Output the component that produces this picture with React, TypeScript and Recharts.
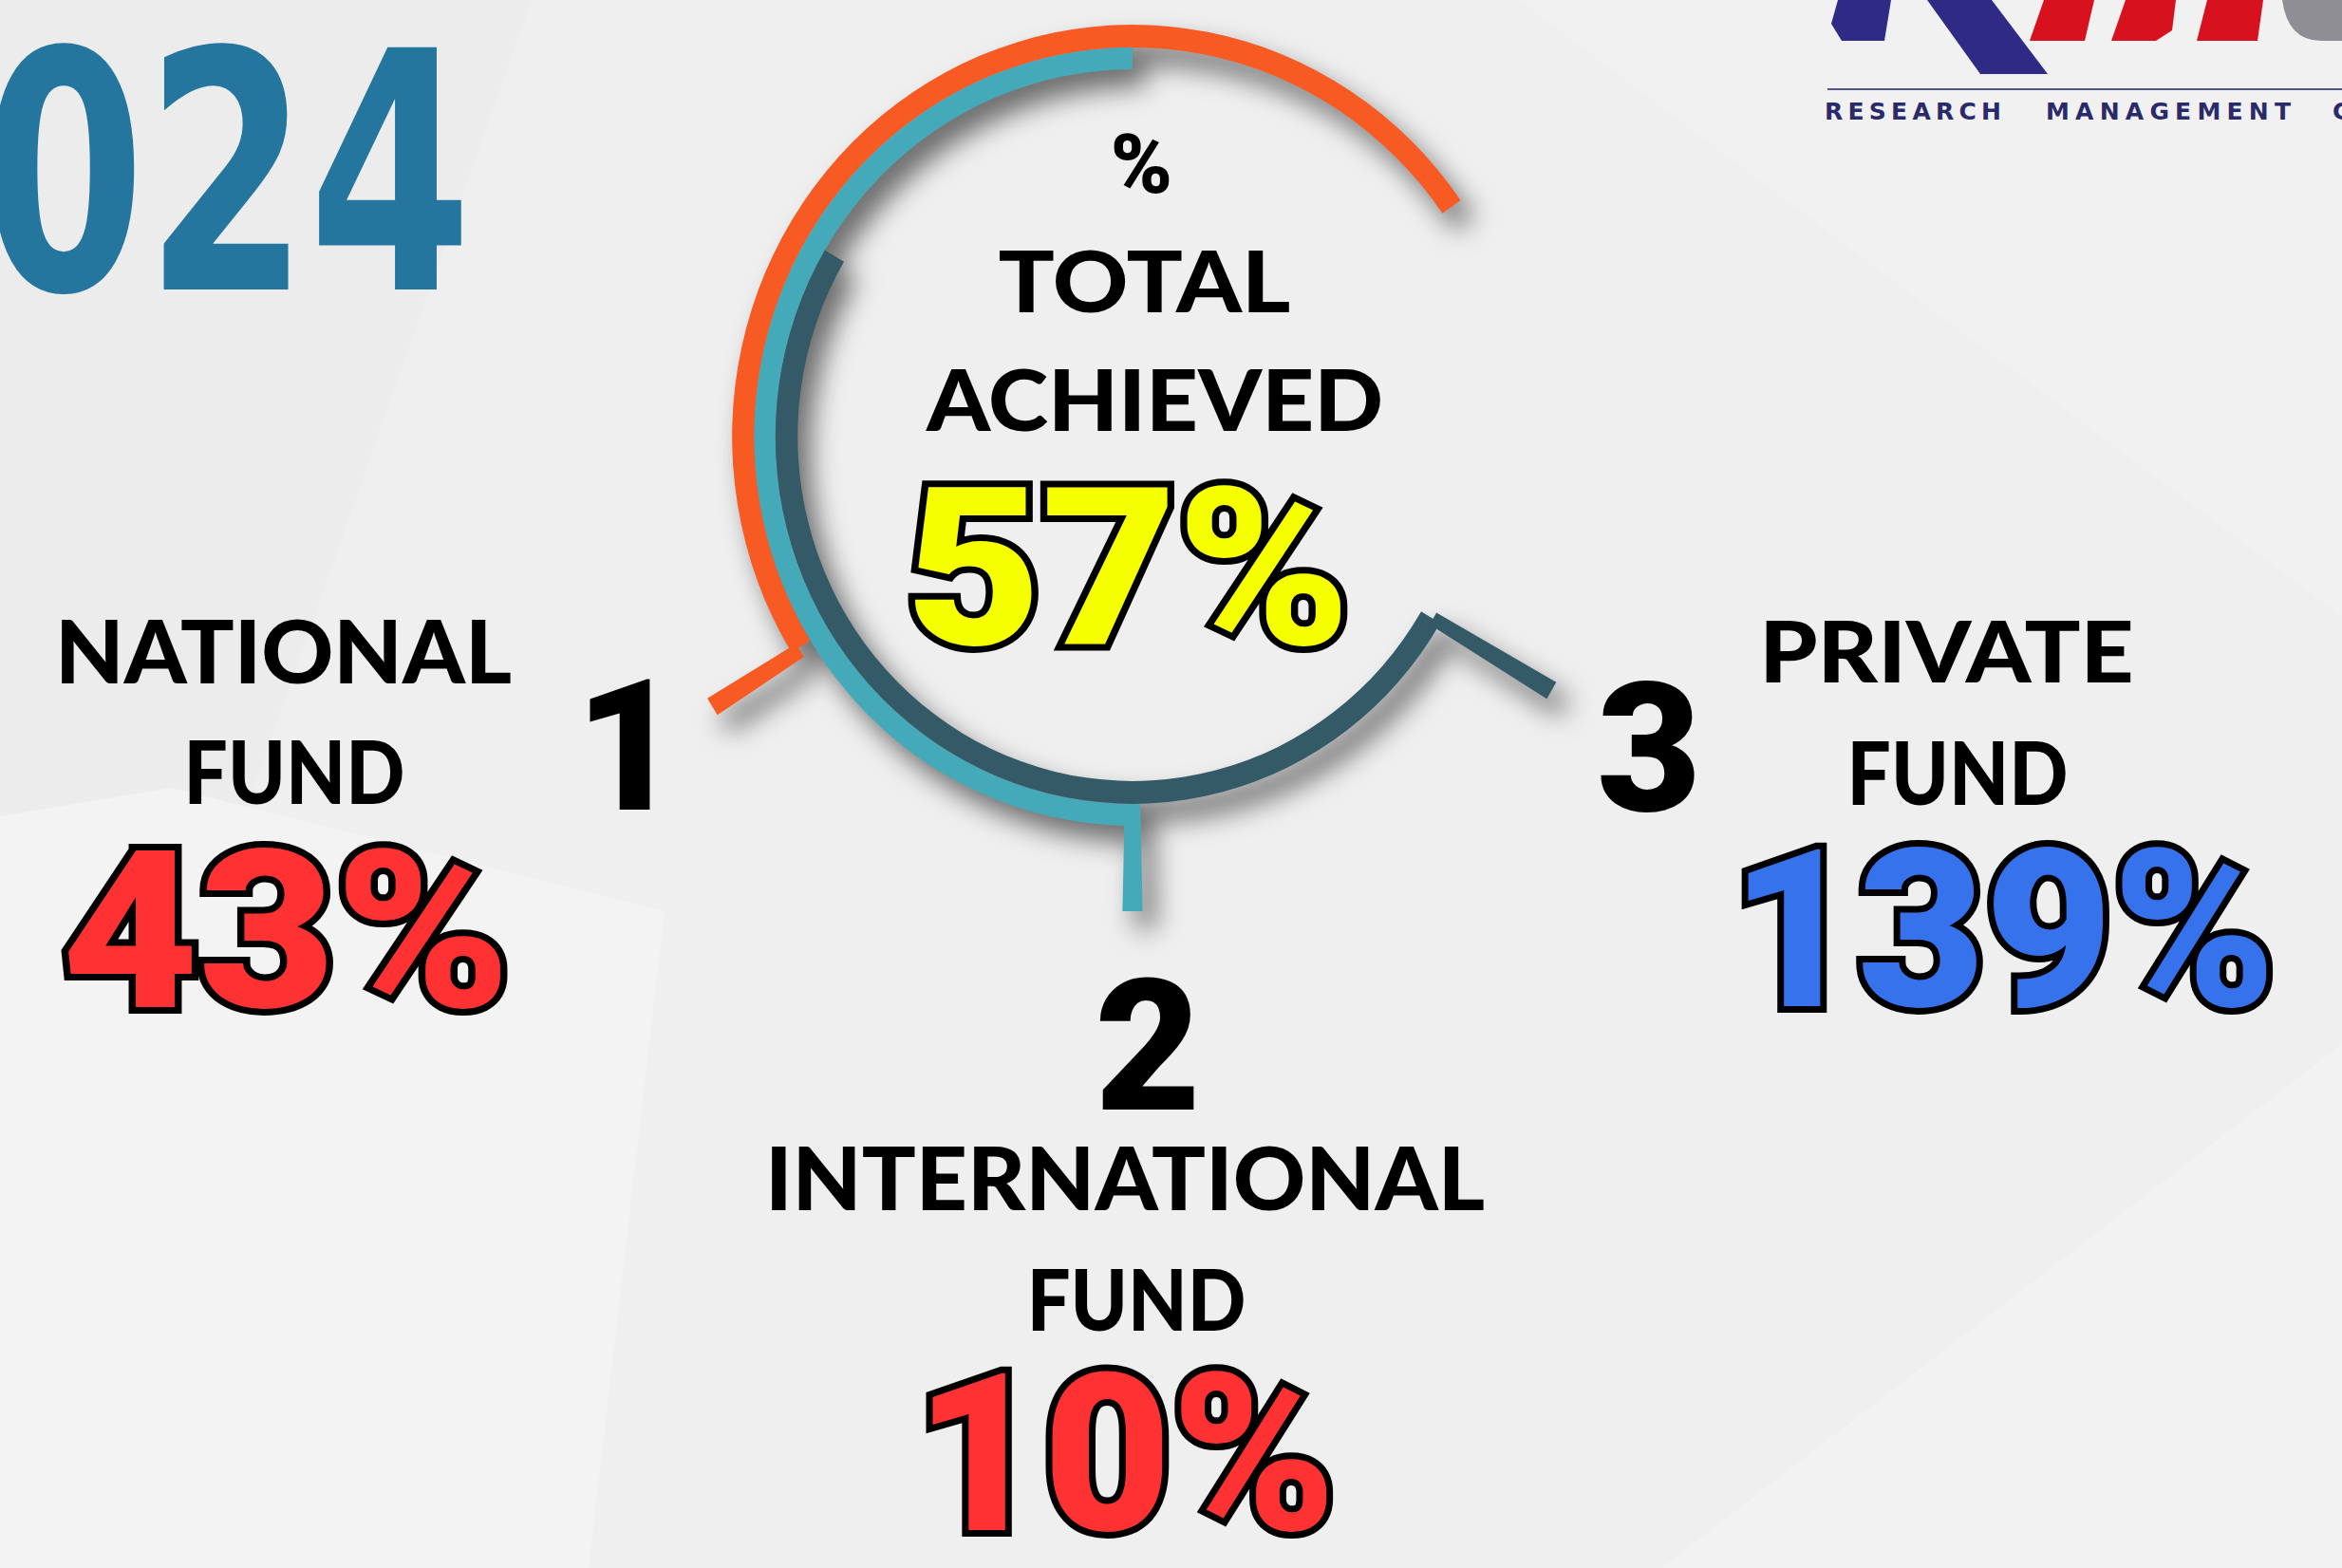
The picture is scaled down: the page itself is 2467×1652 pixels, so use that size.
import React from 'react';
import { PieChart, Pie, Cell } from 'recharts';

const W = 2467;
const H = 1652;

// 2024 research fund results
const fundNames = ['NATIONAL', 'INTERNATIONAL', 'PRIVATE'];
const fundRanks = ['1', '2', '3'];
const fundAchieved = [43, 10, 139];
const totalAchieved = 57;

// ring arcs, degrees (0 = 3 o'clock, counter-clockwise)
const ringStart = [35, 90, 149.5];
const ringSweep = [176.6, 181.2, 180];
const tickAngle = [212, 270, 329.5];
const tickSweep = [2.2, 2.5, 2.2];

const ringColors = ['#f85a24', '#44aab9', '#335a66'];
const ringInner = [410, 387, 363];
const ringOuter = [434, 410, 387];
const tickInner = [425, 395, 378];
const tickOuter = [537, 500, 527];

const CX = 1193;
const CY = 460;

const arcData = (start: number, sweep: number) => [
  { name: 'gap', value: start },
  { name: 'arc', value: sweep },
  { name: 'rest', value: 360 - start - sweep },
];

const WORD_FONT = 'Lato, "DejaVu Sans", sans-serif';
const NUM_FONT = 'Roboto, Lato, sans-serif';

// text fitted to the ink box
const Word = ({ t, x1, x2, base, cap, fill = '#000', outline = false, fit = true, num = false }: any) => (
  <text
    x={(x1 + x2) / 2}
    y={base}
    textAnchor="middle"
    fontFamily={num ? NUM_FONT : WORD_FONT}
    fontWeight={900}
    fontSize={cap / 0.716}
    textLength={fit ? (x2 - x1) * 1.03 : undefined}
    lengthAdjust={fit ? 'spacingAndGlyphs' : undefined}
    fill={fill}
    stroke={outline ? '#000' : 'none'}
    strokeWidth={outline ? 14 : 0}
    strokeLinejoin="miter"
    paintOrder="stroke"
  >
    {t}
  </text>
);

const Logo = () => (
  <g>
    <polygon points="1936,0 1992,0 1985,43 1940,43 1929,25" fill="#2e2a86" />
    <polygon points="2030,0 2098,0 2157,78 2086,78" fill="#2e2a86" />
    <polygon points="2153,0 2206,0 2196,43 2138,43" fill="#d8111f" />
    <polygon points="2239,0 2292,0 2288,32 2271,43 2224,43" fill="#d8111f" />
    <polygon points="2325,0 2384,0 2378,43 2314,43" fill="#d8111f" />
    <path d="M2404,0 L2467,0 L2467,43 L2445,43 Q2410,43 2404,0 Z" fill="#8e8e94" />
    <line x1={1925} y1={94} x2={2467} y2={94} stroke="#55558a" strokeWidth={2} />
    <g fontFamily='"DejaVu Sans", sans-serif' fontWeight={700} fontSize={25} fill="#2a2a6a">
      <text x={1922} y={126} textLength={186} lengthAdjust="spacing">RESEARCH</text>
      <text x={2155} y={126} textLength={258} lengthAdjust="spacing">MANAGEMENT</text>
      <text x={2457} y={126}>C</text>
    </g>
  </g>
);

export default function App() {
  const [natName, intName, privName] = fundNames;
  const [natPct, intPct, privPct] = fundAchieved;
  return (
    <div
      style={{
        position: 'fixed',
        left: 0,
        top: 0,
        width: W,
        height: H,
        overflow: 'hidden',
        background: '#efefef',
      }}
    >
      <svg width={W} height={H} style={{ position: 'absolute', left: 0, top: 0 }}>
        <polygon points="0,0 560,0 250,880 0,860" fill="#ececec" />
        <polygon points="0,860 180,830 700,960 620,1652 0,1652" fill="#f3f3f3" />
        <polygon points="1750,1652 2467,1100 2467,1652" fill="#f2f2f2" />
        <polygon points="1600,0 2467,0 2467,650" fill="#f1f1f1" />
      </svg>

      <div
        style={{
          position: 'absolute',
          left: 0,
          top: 0,
          transform: 'scaleX(0.972)',
          transformOrigin: `${CX}px 0px`,
          filter: 'drop-shadow(14px 18px 14px rgba(0,0,0,0.55))',
        }}
      >
        <PieChart width={W} height={H} margin={{ top: 0, right: 0, bottom: 0, left: 0 }}>
          {ringStart.map((s, i) => (
            <Pie
              key={`ring-${i}`}
              data={arcData(s, ringSweep[i])}
              dataKey="value"
              cx={CX}
              cy={CY}
              innerRadius={ringInner[i]}
              outerRadius={ringOuter[i]}
              startAngle={0}
              endAngle={360}
              stroke="none"
              isAnimationActive={false}
            >
              <Cell fill="transparent" />
              <Cell fill={ringColors[i]} />
              <Cell fill="transparent" />
            </Pie>
          ))}
          {tickAngle.map((a, i) => (
            <Pie
              key={`tick-${i}`}
              data={arcData(a - tickSweep[i] / 2, tickSweep[i])}
              dataKey="value"
              cx={CX}
              cy={CY}
              innerRadius={tickInner[i]}
              outerRadius={tickOuter[i]}
              startAngle={0}
              endAngle={360}
              stroke="none"
              isAnimationActive={false}
            >
              <Cell fill="transparent" />
              <Cell fill={ringColors[i]} />
              <Cell fill="transparent" />
            </Pie>
          ))}
        </PieChart>
      </div>

      <svg width={W} height={H} style={{ position: 'absolute', left: 0, top: 0 }}>
        <text
          x={497}
          y={305}
          textAnchor="end"
          fontFamily='"Liberation Sans Narrow", "DejaVu Sans Condensed", sans-serif'
          fontWeight={700}
          fontSize={350}
          textLength={688}
          lengthAdjust="spacingAndGlyphs"
          fill="#24769f"
        >
          2024
        </text>
        <Logo />

        <Word t="%" x1={1168} x2={1237} base={203} cap={63} fit={false} num />
        <Word t="TOTAL" x1={1056} x2={1355} base={329} cap={64} />
        <Word t="ACHIEVED" x1={983} x2={1450} base={454} cap={64} />
        <Word t={`${totalAchieved}%`} x1={961} x2={1416} base={679} cap={166} fill="#f5ff00" outline num />

        <Word t={natName} x1={65} x2={532} base={720} cap={65} />
        <Word t="FUND" x1={197} x2={423} base={847} cap={65} />
        <Word t={`${natPct}%`} x1={72} x2={531} base={1061} cap={166} fill="#fe3232" outline num />
        <Word t={fundRanks[0]} x1={628} x2={695} base={853} cap={138} fit={false} num />

        <Word t={fundRanks[1]} x1={1158} x2={1260} base={1169} cap={138} fit={false} num />
        <Word t={intName} x1={817} x2={1553} base={1275} cap={65} />
        <Word t="FUND" x1={1085} x2={1309} base={1402} cap={64} />
        <Word t={`${intPct}%`} x1={970} x2={1401} base={1612} cap={166} fill="#fe3232" outline num />

        <Word t={fundRanks[2]} x1={1686} x2={1788} base={854} cap={136} fit={false} num />
        <Word t={privName} x1={1859} x2={2242} base={719} cap={64} />
        <Word t="FUND" x1={1949} x2={2175} base={848} cap={65} />
        <Word t={`${privPct}%`} x1={1831} x2={2389} base={1060} cap={166} fill="#3572ec" outline num />
      </svg>
    </div>
  );
}
